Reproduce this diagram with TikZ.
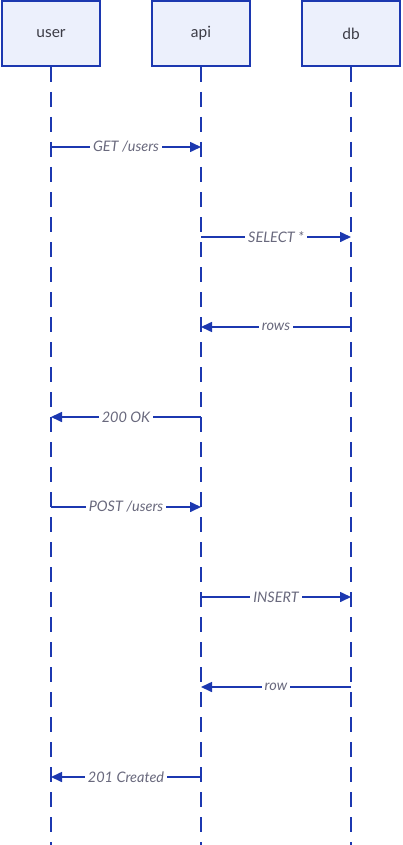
\documentclass[tikz,border=0pt]{standalone}
\usepackage{fontspec}
\setmainfont{Lato}
\usetikzlibrary{arrows.meta}

\definecolor{seqblue}{RGB}{28,56,176}
\definecolor{seqfill}{RGB}{236,240,252}
\definecolor{seqtext}{RGB}{60,60,70}
\definecolor{seqlabel}{RGB}{105,105,125}

\tikzset{
  part/.style={draw=seqblue,fill=seqfill,line width=2pt,minimum width=98pt,minimum height=65pt,
    text=seqtext,font=\fontsize{15.5}{18}\selectfont},
  life/.style={seqblue,line width=2pt,dash pattern=on 15pt off 10pt},
  msg/.style={seqblue,line width=1.6pt,-{Triangle[length=11pt,width=10pt]}},
  lbl/.style={fill=white,text=seqlabel,inner sep=3pt,font=\fontsize{14.5}{17}\selectfont\itshape}
}

\begin{document}
\begin{tikzpicture}[x=1pt,y=-1pt]
  \useasboundingbox (0,0) rectangle (402,845);
  \fill[white] (0,0) rectangle (402,845);
  \node[part] (user) at (51,33.5) {user};
  \node[part] (api) at (201,33.5) {api};
  \node[part] (db) at (351,33.5) {db};
  \coordinate (user-end) at (51,845);
  \coordinate (api-end) at (201,845);
  \coordinate (db-end) at (351,845);
  \draw[life] (user.south) -- (user-end);
  \draw[life] (api.south) -- (api-end);
  \draw[life] (db.south) -- (db-end);
  \coordinate (u1) at (51,147);  \coordinate (a1) at (201,147);
  \coordinate (a2) at (201,237); \coordinate (d2) at (351,237);
  \coordinate (d3) at (351,327); \coordinate (a3) at (201,327);
  \coordinate (a4) at (201,417); \coordinate (u4) at (51,417);
  \coordinate (u5) at (51,507);  \coordinate (a5) at (201,507);
  \coordinate (a6) at (201,597); \coordinate (d6) at (351,597);
  \coordinate (d7) at (351,687); \coordinate (a7) at (201,687);
  \coordinate (a8) at (201,777); \coordinate (u8) at (51,777);
  \draw[msg] (u1) -- node[lbl] {GET /users} (a1);
  \draw[msg] (a2) -- node[lbl] {SELECT *} (d2);
  \draw[msg] (d3) -- node[lbl] {rows} (a3);
  \draw[msg] (a4) -- node[lbl] {200 OK} (u4);
  \draw[msg] (u5) -- node[lbl] {POST /users} (a5);
  \draw[msg] (a6) -- node[lbl] {INSERT} (d6);
  \draw[msg] (d7) -- node[lbl] {row} (a7);
  \draw[msg] (a8) -- node[lbl] {201 Created} (u8);
\end{tikzpicture}
\end{document}
